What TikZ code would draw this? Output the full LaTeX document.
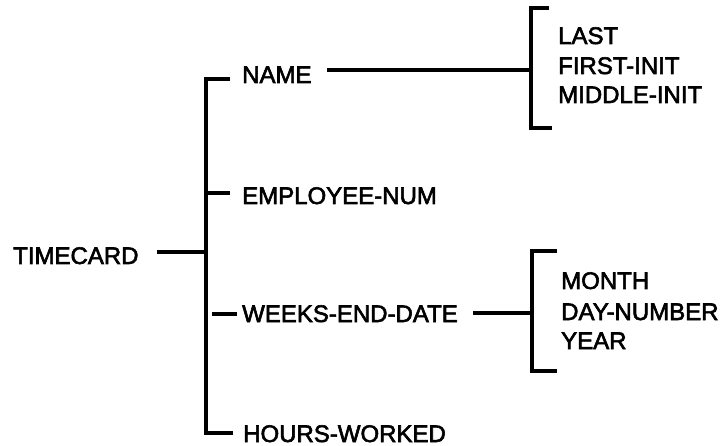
\documentclass[tikz,border=0pt]{standalone}
\usepackage{fontspec}
\newfontfamily\labelfont{Liberation Sans}[FakeBold=2.5]
\begin{document}
\begin{tikzpicture}[x=1pt,y=-1pt,
  lbl/.style={anchor=base west, inner sep=0pt, font=\labelfont\fontsize{24pt}{28pt}\selectfont},
  wire/.style={line width=3.4pt, line cap=butt, line join=miter}]
\useasboundingbox (0,0) rectangle (728,446);

% record fields
\node[lbl] (timecard) at (13,264) {TIMECARD};
\node[lbl] (name)     at (242,83)  {NAME};
\node[lbl] (empnum)   at (242,204) {EMPLOYEE-NUM};
\node[lbl] (weeks)    at (242,322) {WEEKS-END-DATE};
\node[lbl] (hours)    at (243,442) {HOURS-WORKED};

% sub-fields of NAME
\node[lbl] (last)   at (558,44)  {LAST};
\node[lbl] (first)  at (558,74)  {FIRST-INIT};
\node[lbl] (middle) at (558,103) {MIDDLE-INIT};

% sub-fields of WEEKS-END-DATE
\node[lbl] (month) at (561,289) {MONTH};
\node[lbl] (day)   at (561,320) {DAY-NUMBER};
\node[lbl] (year)  at (561,349) {YEAR};

% main bracket
\coordinate (mTop)  at (206,79);
\coordinate (mBot)  at (206,433);
\coordinate (mTopT) at (230,79);
\coordinate (mBotT) at (233,433);
\coordinate (mEmp)  at (206,193);
\coordinate (mEmpT) at (230,193);
\coordinate (mWkA)  at (212,314);
\coordinate (mWkB)  at (237,314);
\coordinate (root)  at (206,252);
\coordinate (rootL) at (157,252);
\draw[wire] (mTopT) -- (mTop) -- (mBot) -- (mBotT);
\draw[wire] (mEmp) -- (mEmpT);
\draw[wire] (mWkA) -- (mWkB);
\draw[wire] (rootL) -- (root);

% NAME bracket
\coordinate (nTop)  at (531,8);
\coordinate (nBot)  at (531,128);
\coordinate (nTopT) at (549,8);
\coordinate (nBotT) at (552,128);
\coordinate (nJoin) at (531,70);
\coordinate (nLeft) at (327,70);
\draw[wire] (nTopT) -- (nTop) -- (nBot) -- (nBotT);
\draw[wire] (nLeft) -- (nJoin);

% WEEKS-END-DATE bracket
\coordinate (dTop)  at (532,251);
\coordinate (dBot)  at (532,371);
\coordinate (dTopT) at (557,251);
\coordinate (dBotT) at (557,371);
\coordinate (dJoin) at (532,313);
\coordinate (dLeft) at (473,313);
\draw[wire] (dTopT) -- (dTop) -- (dBot) -- (dBotT);
\draw[wire] (dLeft) -- (dJoin);
\end{tikzpicture}
\end{document}
